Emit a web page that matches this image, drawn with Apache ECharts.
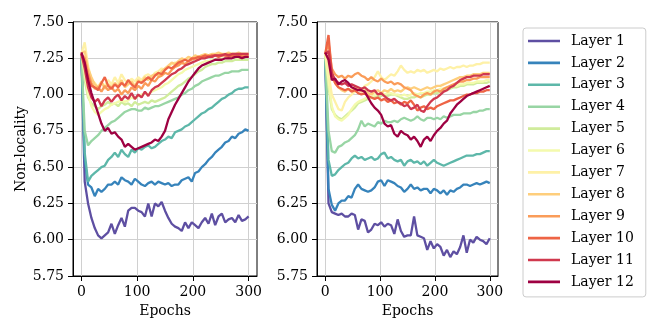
<!DOCTYPE html>
<html>
<head>
<meta charset="utf-8">
<script src="https://cdn.jsdelivr.net/npm/echarts@6/dist/echarts.min.js"></script>
<style>
html,body{margin:0;padding:0;background:#fff;}
#c{width:664px;height:332px;}
</style>
</head>
<body>
<div id="c"></div>
<script>
const epochs = Array.from({length: 51}, (_, i) => i * 6);
const xTicks = [0, 100, 200, 300];
const layerNames = ['Layer 1','Layer 2','Layer 3','Layer 4','Layer 5','Layer 6','Layer 7','Layer 8','Layer 9','Layer 10','Layer 11','Layer 12'];
const layerColors = ['#5e4fa2','#3683bb','#5db7a9','#98d5a4','#d0ec9c','#f4faad','#fef1a7','#fece7c','#fa9c59','#ee6445','#d0384e','#9e0142'];

// Left panel
const L1 = [7.28,6.40,6.25,6.15,6.08,6.03,6.01,6.03,6.05,6.11, 6.04,6.10,6.15,6.09,6.20,6.22,6.22,6.20,6.19,6.16, 6.25,6.16,6.25,6.23,6.26,6.20,6.15,6.11,6.09,6.08, 6.06,6.12,6.08,6.12,6.10,6.08,6.12,6.15,6.11,6.18, 6.10,6.16,6.18,6.12,6.14,6.15,6.12,6.17,6.13,6.14, 6.16];
const L2 = [7.28,6.55,6.38,6.36,6.30,6.35,6.33,6.35,6.38,6.38, 6.40,6.38,6.43,6.41,6.40,6.38,6.42,6.40,6.38,6.37, 6.39,6.40,6.38,6.40,6.39,6.38,6.39,6.37,6.38,6.38, 6.41,6.42,6.43,6.40,6.46,6.47,6.50,6.52,6.55,6.57, 6.60,6.62,6.64,6.67,6.68,6.71,6.70,6.73,6.74,6.76, 6.75];
const L3 = [7.28,6.60,6.40,6.44,6.46,6.48,6.50,6.51,6.55,6.57, 6.60,6.57,6.62,6.59,6.57,6.62,6.60,6.63,6.62,6.64, 6.65,6.63,6.64,6.66,6.68,6.69,6.71,6.70,6.74,6.75, 6.76,6.78,6.79,6.81,6.83,6.85,6.87,6.88,6.90,6.91, 6.93,6.95,6.97,6.98,7.00,7.01,7.03,7.04,7.04,7.05, 7.05];
const L4 = [7.28,6.75,6.65,6.68,6.70,6.72,6.75,6.77,6.79,6.81, 6.82,6.84,6.86,6.88,6.89,6.90,6.90,6.89,6.89,6.91, 6.90,6.91,6.92,6.92,6.93,6.94,6.95,6.96,6.97,6.98, 7.00,7.01,7.03,7.04,7.06,7.07,7.09,7.10,7.11,7.12, 7.13,7.13,7.14,7.15,7.15,7.16,7.16,7.16,7.17,7.17, 7.17];
const L5 = [7.28,7.10,6.98,6.94,6.92,6.90,6.92,6.93,6.95,6.93, 6.94,6.92,6.95,6.93,6.94,6.92,6.95,6.93,6.94,6.95, 6.94,6.96,6.95,6.96,6.97,6.98,7.00,7.02,7.04,7.06, 7.07,7.09,7.11,7.12,7.14,7.16,7.17,7.19,7.20,7.21, 7.21,7.22,7.22,7.23,7.23,7.23,7.24,7.24,7.24,7.24, 7.24];
const L6 = [7.28,7.15,7.00,6.92,6.88,6.86,6.88,6.90,6.91,6.93, 6.94,6.95,6.96,6.95,6.96,6.98,6.97,6.99,7.00,7.01, 7.00,7.02,7.03,7.04,7.05,7.07,7.08,7.10,7.12,7.14, 7.15,7.17,7.18,7.19,7.20,7.21,7.22,7.23,7.23,7.24, 7.24,7.25,7.25,7.25,7.25,7.26,7.26,7.25,7.26,7.26, 7.26];
const L7 = [7.28,7.36,7.20,7.10,7.08,7.05,7.08,7.06,7.10,7.07, 7.12,7.08,7.14,7.10,7.08,7.11,7.09,7.12,7.10,7.13, 7.14,7.12,7.15,7.16,7.18,7.17,7.19,7.21,7.22,7.21, 7.23,7.24,7.25,7.24,7.26,7.26,7.27,7.26,7.27,7.28, 7.27,7.28,7.28,7.27,7.28,7.28,7.28,7.27,7.28,7.28, 7.28];
const L8 = [7.28,7.30,7.18,7.12,7.07,7.05,7.09,7.04,7.07,7.05, 7.08,7.06,7.10,7.05,7.07,7.09,7.06,7.10,7.08,7.12, 7.10,7.13,7.14,7.13,7.16,7.18,7.20,7.22,7.21,7.23, 7.25,7.24,7.26,7.25,7.27,7.26,7.27,7.28,7.27,7.28, 7.28,7.29,7.28,7.28,7.29,7.28,7.28,7.29,7.28,7.28, 7.28];
const L9 = [7.28,7.25,7.15,7.08,7.04,7.05,7.02,7.06,7.03,7.05, 7.02,7.04,7.00,7.03,7.01,7.05,7.03,7.06,7.04,7.08, 7.06,7.10,7.09,7.12,7.13,7.15,7.14,7.17,7.19,7.20, 7.22,7.21,7.23,7.24,7.25,7.24,7.26,7.26,7.27,7.26, 7.27,7.27,7.28,7.27,7.28,7.27,7.27,7.28,7.27,7.27, 7.27];
const L10 = [7.28,7.22,7.12,7.06,7.05,7.03,7.08,7.12,7.06,7.04, 7.07,7.05,7.08,7.06,7.10,7.07,7.05,7.09,7.08,7.10, 7.12,7.10,7.13,7.15,7.14,7.17,7.19,7.18,7.20,7.22, 7.23,7.24,7.23,7.25,7.25,7.26,7.26,7.27,7.26,7.27, 7.27,7.26,7.27,7.27,7.26,7.27,7.26,7.27,7.26,7.26, 7.26];
const L11 = [7.28,7.18,7.05,6.98,6.95,6.97,6.92,6.96,6.98,6.95, 6.98,7.00,6.96,6.99,6.97,7.01,6.97,7.00,6.98,7.02, 6.99,7.03,7.05,7.06,7.08,7.10,7.12,7.14,7.15,7.17, 7.18,7.20,7.21,7.22,7.23,7.24,7.25,7.25,7.26,7.26, 7.27,7.27,7.27,7.28,7.27,7.28,7.28,7.28,7.28,7.28, 7.28];
const L12 = [7.29,7.22,7.10,7.01,6.94,6.87,6.80,6.75,6.77,6.73, 6.74,6.71,6.69,6.64,6.66,6.64,6.62,6.63,6.64,6.65, 6.66,6.67,6.69,6.68,6.71,6.75,6.83,6.88,6.93,6.97, 7.01,7.05,7.09,7.12,7.15,7.18,7.20,7.21,7.22,7.23, 7.24,7.24,7.24,7.25,7.25,7.25,7.26,7.26,7.25,7.26, 7.26];

// Right panel
const R1 = [7.28,6.25,6.19,6.18,6.17,6.18,6.16,6.16,6.18,6.17, 6.07,6.14,6.13,6.05,6.07,6.11,6.10,6.12,6.09,6.11, 6.10,6.04,6.14,6.06,6.02,6.03,6.03,6.16,6.03,6.02, 6.01,5.93,5.99,5.94,5.97,5.95,5.89,5.93,5.88,5.92, 5.90,5.95,6.03,5.91,6.00,5.98,6.02,6.00,5.99,5.97, 6.01];
const R2 = [7.28,6.35,6.24,6.20,6.25,6.27,6.27,6.30,6.29,6.35, 6.38,6.35,6.34,6.33,6.34,6.36,6.40,6.41,6.37,6.41, 6.40,6.39,6.37,6.36,6.33,6.35,6.38,6.35,6.36,6.34, 6.35,6.35,6.32,6.35,6.34,6.32,6.34,6.31,6.34,6.33, 6.35,6.36,6.38,6.38,6.37,6.38,6.39,6.38,6.39,6.40, 6.39];
const R3 = [7.28,6.55,6.44,6.45,6.48,6.50,6.52,6.53,6.56,6.58, 6.56,6.57,6.55,6.56,6.57,6.55,6.56,6.59,6.60,6.56, 6.57,6.55,6.54,6.55,6.51,6.54,6.55,6.53,6.54,6.52, 6.54,6.51,6.53,6.55,6.53,6.52,6.51,6.52,6.53,6.54, 6.55,6.56,6.57,6.58,6.58,6.58,6.59,6.59,6.60,6.61, 6.61];
const R4 = [7.28,6.75,6.61,6.60,6.64,6.65,6.67,6.68,6.70,6.72, 6.76,6.82,6.78,6.80,6.79,6.78,6.81,6.80,6.82,6.81, 6.81,6.82,6.81,6.83,6.84,6.83,6.82,6.83,6.85,6.83, 6.82,6.84,6.84,6.83,6.84,6.83,6.85,6.84,6.85,6.86, 6.86,6.86,6.87,6.87,6.87,6.88,6.88,6.89,6.89,6.90, 6.90];
const R5 = [7.28,7.05,6.90,6.86,6.84,6.83,6.85,6.87,6.89,6.91, 6.94,6.95,6.96,6.97,6.98,6.98,6.99,6.99,7.00,6.99, 7.00,7.00,6.99,6.98,6.97,6.97,6.98,6.98,6.99,6.98, 6.99,7.00,7.00,7.01,7.01,7.02,7.03,7.03,7.04,7.05, 7.05,7.06,7.06,7.07,7.07,7.07,7.08,7.08,7.08,7.08, 7.09];
const R6 = [7.28,7.10,6.92,6.85,6.83,6.82,6.84,6.86,6.90,6.93, 6.95,6.96,6.97,6.99,6.98,7.00,7.00,7.01,7.00,7.01, 7.01,7.00,7.00,6.99,7.00,6.99,7.00,7.01,7.00,7.01, 7.01,7.02,7.02,7.03,7.03,7.04,7.04,7.05,7.05,7.06, 7.06,7.07,7.07,7.08,7.08,7.08,7.09,7.09,7.09,7.10, 7.10];
const R7 = [7.28,7.15,7.00,6.95,6.90,6.89,6.95,6.98,7.00,7.02, 7.04,7.03,7.06,7.07,7.09,7.12,7.16,7.12,7.10,7.12, 7.14,7.13,7.16,7.20,7.17,7.15,7.16,7.15,7.17,7.16, 7.17,7.15,7.16,7.17,7.16,7.18,7.17,7.18,7.19,7.18, 7.19,7.19,7.20,7.19,7.20,7.20,7.21,7.21,7.22,7.22, 7.22];
const R8 = [7.28,7.25,7.12,7.08,7.05,7.03,7.02,7.04,7.03,7.05, 7.04,7.02,7.03,7.01,7.00,7.02,7.03,7.01,7.03,7.02, 7.04,7.02,7.03,7.02,7.04,7.05,7.04,7.05,7.04,7.03, 7.04,7.05,7.04,7.05,7.06,7.06,7.07,7.08,7.09,7.10, 7.11,7.12,7.12,7.13,7.13,7.14,7.14,7.14,7.15,7.15, 7.15];
const R9 = [7.28,7.36,7.18,7.14,7.12,7.13,7.11,7.13,7.12,7.14, 7.15,7.13,7.12,7.10,7.12,7.10,7.09,7.11,7.09,7.08, 7.09,7.07,7.08,7.07,7.05,7.04,7.03,7.00,6.99,6.98, 7.00,7.01,7.00,7.02,7.03,7.02,7.04,7.05,7.06,7.07, 7.08,7.09,7.09,7.10,7.10,7.11,7.11,7.12,7.12,7.12, 7.12];
const R10 = [7.28,7.41,7.15,7.08,7.05,7.04,7.03,7.04,7.02,7.03, 7.01,7.00,7.01,6.99,6.98,6.97,6.98,6.96,6.97,6.95, 6.96,6.94,6.95,6.93,6.95,6.94,6.96,6.93,6.89,6.91, 6.92,6.90,6.91,6.90,6.92,6.93,6.94,6.95,6.96,6.96, 6.97,6.98,6.99,7.00,7.00,7.01,7.01,7.02,7.02,7.03, 7.03];
const R11 = [7.28,7.30,7.15,7.10,7.08,7.07,7.08,7.06,7.07,7.06, 7.05,7.04,7.05,7.03,7.02,7.03,7.00,7.01,6.99,6.97, 6.96,6.97,6.95,6.94,6.92,6.93,6.90,6.91,6.93,6.89, 6.88,6.92,6.95,6.97,6.98,7.00,7.02,7.03,7.05,7.06, 7.08,7.10,7.11,7.12,7.12,7.13,7.13,7.13,7.14,7.14, 7.14];
const R12 = [7.29,7.24,7.10,7.11,7.07,7.09,7.10,7.08,7.05,7.04, 7.03,7.03,7.02,6.98,6.94,6.91,6.89,6.86,6.80,6.78, 6.79,6.73,6.71,6.75,6.73,6.72,6.69,6.71,6.68,6.64, 6.69,6.71,6.68,6.72,6.75,6.77,6.80,6.82,6.87,6.90, 6.93,6.95,6.97,6.99,7.00,7.01,7.02,7.03,7.04,7.05, 7.06];

const leftSets = [L1,L2,L3,L4,L5,L6,L7,L8,L9,L10,L11,L12];
const rightSets = [R1,R2,R3,R4,R5,R6,R7,R8,R9,R10,R11,R12];

const FONT = 'DejaVu Serif';
const txt = {color: '#000', fontSize: 14, fontFamily: FONT};
// thin horizontal bar icon kept within a 32x14 box by two tiny corner marks
const LEGEND_ICON = 'path://M0,0L0.01,0L0.01,0.01Z M0,5.7L32,5.7L32,8.3L0,8.3Z M31.99,13.99L32,13.99L32,14Z';

function xAxisFor(idx) {
  return {
    type: 'value', gridIndex: idx, min: -15, max: 315,
    axisLine: {show: true, onZero: false, lineStyle: {color: '#000', width: 1}},
    axisTick: {show: true, length: 5, customValues: xTicks, lineStyle: {color: '#000'}},
    axisLabel: Object.assign({margin: 9, customValues: xTicks}, txt),
    splitLine: {show: true, lineStyle: {color: '#d0d0d0', width: 1}},
    name: 'Epochs', nameLocation: 'middle', nameGap: 26,
    nameTextStyle: txt
  };
}
function yAxisFor(idx, withName) {
  return {
    type: 'value', gridIndex: idx, min: 5.75, max: 7.5, interval: 0.25,
    axisLine: {show: true, onZero: false, lineStyle: {color: '#000', width: 1}},
    axisTick: {show: true, length: 5, lineStyle: {color: '#000'}},
    axisLabel: Object.assign({margin: 9, formatter: v => v.toFixed(2)}, txt),
    splitLine: {show: true, lineStyle: {color: '#d0d0d0', width: 1}},
    name: withName ? 'Non-locality' : '', nameLocation: 'middle', nameGap: 45,
    nameTextStyle: txt
  };
}

const series = [];
[leftSets, rightSets].forEach((sets, gi) => {
  sets.forEach((vals, k) => {
    series.push({
      type: 'line', name: layerNames[k], xAxisIndex: gi, yAxisIndex: gi,
      data: epochs.map((e, i) => [e, vals[i]]),
      symbol: 'none', showSymbol: false,
      lineStyle: {width: 2.3, color: layerColors[k]},
      itemStyle: {color: layerColors[k], borderWidth: 0},
      z: 2 + k
    });
  });
});

const chart = echarts.init(document.getElementById('c'), null, {renderer: 'canvas'});
chart.setOption({
  animation: false,
  backgroundColor: '#fff',
  grid: [
    {left: 73, top: 22, width: 184, height: 254, show: true, borderColor: '#000', borderWidth: 1, backgroundColor: 'transparent'},
    {left: 317, top: 22, width: 181, height: 254, show: true, borderColor: '#000', borderWidth: 1, backgroundColor: 'transparent'}
  ],
  xAxis: [xAxisFor(0), xAxisFor(1)],
  yAxis: [yAxisFor(0, true), yAxisFor(1, false)],
  legend: {
    data: layerNames, orient: 'vertical', left: 523, top: 28,
    icon: LEGEND_ICON,
    itemWidth: 32, itemHeight: 14, itemGap: 7.9,
    itemStyle: {borderWidth: 0},
    textStyle: Object.assign({padding: [0, 0, 0, 6]}, txt),
    borderColor: '#cccccc', borderWidth: 1, borderRadius: 3,
    padding: [6, 12, 8, 5]
  },
  series: series
});
</script>
</body>
</html>
